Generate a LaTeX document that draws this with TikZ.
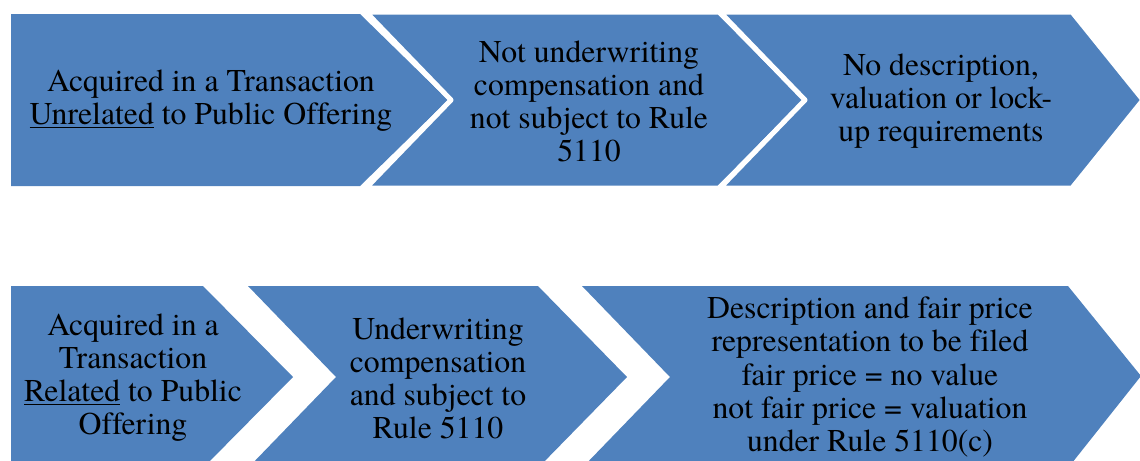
\documentclass[tikz,border=0pt]{standalone}
\usepackage{fontspec}
\setmainfont{texgyretermes}[Extension=.otf, UprightFont=*-regular, BoldFont=*-bold, ItalicFont=*-italic, BoldItalicFont=*-bolditalic, Ligatures=NoCommon]
\definecolor{blueA}{RGB}{79,129,189}
\begin{document}
\begin{tikzpicture}[x=0.75pt,y=-0.75pt,
  shp/.style={fill=blueA},
  shpw/.style={fill=blueA, draw=white, line width=3.75pt, line join=round},
  txt/.style={align=center, inner sep=0pt, text=black,
    font=\fontsize{23.8}{24.8}\selectfont}]
\useasboundingbox (0,0) rectangle (1140,461);
\clip (0,0) rectangle (1140,461);
% top row
\fill[shp] (11,14) -- (360,14) -- (448,100) -- (360,186) -- (11,186) -- cycle;
\filldraw[shpw] (366,12) -- (719,12) -- (806,100) -- (719,188) -- (366,188) -- (451,100) -- cycle;
\filldraw[shpw] (720,12) -- (1072,12) -- (1143,100) -- (1072,188) -- (720,188) -- (805,100) -- cycle;
% bottom row
\fill[shp] (11,286) -- (203,286) -- (293,377) -- (203,468) -- (11,468) -- cycle;
\fill[shp] (248,286) -- (538,286) -- (627,377) -- (538,468) -- (248,468) -- (336,377) -- cycle;
\fill[shp] (582,286) -- (1068,286) -- (1141,376) -- (1068,468) -- (582,468) -- (670,377) -- cycle;
% texts
\node[txt] (t1) at (211,101) {Acquired in a Transaction\\\underline{Unrelated} to Public Offering};
\node[txt] (t2) at (589,101) {Not underwriting\\compensation and\\not subject to Rule\\5110};
\node[txt] (t3) at (941,101) {No description,\\valuation or lock-\\up requirements};
\node[txt] (b1) at (133,378) {Acquired in a\\Transaction\\\underline{Related} to Public\\Offering};
\node[txt] (b2) at (438,378) {Underwriting\\compensation\\and subject to\\Rule 5110};
\node[txt] (b3) at (870,377) {Description and fair price\\representation to be filed\\fair price = no value\\not fair price = valuation\\under Rule 5110(c)};
\end{tikzpicture}
\end{document}
